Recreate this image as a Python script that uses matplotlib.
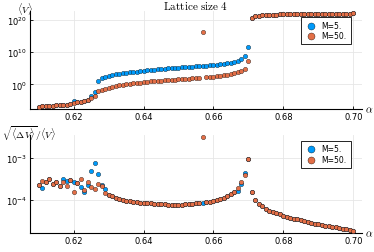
import numpy as np
import matplotlib
matplotlib.use("Agg")
import matplotlib.pyplot as plt

plt.rcParams["mathtext.fontset"] = "cm"

# alpha grid 0.610 ... 0.700
alpha = np.round(np.arange(610, 701) / 1000, 3)

# log10 <V>, M=5.
log_v_m5 = [
    -6.9, -6.8, -6.75, -6.7, -6.6, -6.5, -6.45, -6.35, -6.25, -6.15,
    -5.1, -5.6, -5.5, -5.2, -4.8, -3.7, -2.3, 1.1, 2.0, 2.4,
    2.7, 2.95, 3.15, 3.3, 3.45, 3.55, 3.7, 3.8, 3.95, 4.1,
    4.25, 4.35, 4.45, 4.55, 4.65, 4.75, 4.85, 4.95, 5.05, 5.1,
    5.2, 5.3, 5.35, 5.45, 5.5, 5.6, 5.7, 5.8, 5.85, 5.95,
    6.05, 6.15, 6.25, 6.35, 6.5, 6.65, 6.85, 7.3, 7.9, 8.8,
    11.5, 20.7, 21.1, 21.3, 21.4, 21.5, 21.55, 21.6, 21.65, 21.7,
    21.7, 21.75, 21.75, 21.8, 21.8, 21.8, 21.85, 21.85, 21.85, 21.85,
    21.9, 21.9, 21.9, 21.9, 21.9, 21.95, 21.95, 21.95, 21.95, 21.95,
    22.0,
]
# log10 <V>, M=50.
log_v_m50 = [
    -6.9, -6.8, -6.75, -6.7, -6.6, -6.5, -6.45, -6.35, -6.25, -6.15,
    -5.8, -5.6, -5.5, -5.2, -4.8, -4.3, -3.6, -2.2, -1.6, -1.3,
    -1.0, -0.7, -0.5, -0.3, -0.15, 0.0, 0.15, 0.3, 0.45, 0.55,
    0.7, 0.8, 0.9, 1.0, 1.1, 1.2, 1.3, 1.35, 1.45, 1.5,
    1.6, 1.65, 1.7, 1.8, 1.85, 1.9, 2.0, 16.2, 2.15, 2.25,
    2.35, 2.5, 2.65, 2.8, 3.0, 3.2, 3.5, 3.85, 4.3, 4.9,
    7.3, 20.7, 21.1, 21.3, 21.4, 21.5, 21.55, 21.6, 21.65, 21.7,
    21.7, 21.75, 21.75, 21.8, 21.8, 21.8, 21.85, 21.85, 21.85, 21.85,
    21.9, 21.9, 21.9, 21.9, 21.9, 21.95, 21.95, 21.95, 21.95, 21.95,
    22.0,
]

# log10 sqrt(<dV>)/<V>, M=5.
log_r_m5 = [
    -3.64, -3.71, -3.56, -3.50, -3.62, -3.57, -3.66, -3.49, -3.55, -3.52,
    -3.57, -3.60, -3.68, -3.80, -3.64, -3.32, -3.13, -3.37, -3.64, -3.74,
    -3.87, -3.91, -3.95, -3.98, -4.00, -4.02, -4.03, -4.04, -4.05, -4.06,
    -4.07, -4.08, -4.08, -4.09, -4.09, -4.10, -4.10, -4.11, -4.11, -4.11,
    -4.11, -4.11, -4.10, -4.10, -4.09, -4.08, -4.07, -4.08, -4.05, -4.04,
    -4.02, -4.00, -3.97, -3.94, -3.90, -3.86, -3.81, -3.78, -3.62, -3.36,
    -3.02, -3.80, -3.99, -4.09, -4.14, -4.21, -4.25, -4.28, -4.31, -4.34,
    -4.37, -4.40, -4.42, -4.44, -4.46, -4.48, -4.50, -4.52, -4.54, -4.56,
    -4.58, -4.59, -4.61, -4.62, -4.64, -4.65, -4.67, -4.68, -4.70, -4.71,
    -4.73,
]
# log10 sqrt(<dV>)/<V>, M=50.
log_r_m50 = [
    -3.64, -3.54, -3.56, -3.50, -3.62, -3.57, -3.66, -3.58, -3.66, -3.52,
    -3.80, -3.60, -3.49, -3.75, -3.57, -3.68, -3.73, -3.62, -3.66, -3.84,
    -3.87, -3.91, -3.95, -3.98, -4.00, -4.02, -4.03, -4.04, -4.05, -4.06,
    -4.07, -4.08, -4.08, -4.09, -4.09, -4.10, -4.10, -4.11, -4.11, -4.11,
    -4.11, -4.11, -4.10, -4.10, -4.09, -4.08, -4.07, -2.51, -4.05, -4.04,
    -4.02, -4.00, -3.97, -3.94, -3.90, -3.86, -3.81, -3.71, -3.57, -3.41,
    -3.02, -3.80, -3.99, -4.09, -4.14, -4.21, -4.25, -4.28, -4.31, -4.34,
    -4.37, -4.40, -4.42, -4.44, -4.46, -4.48, -4.50, -4.52, -4.54, -4.56,
    -4.58, -4.59, -4.61, -4.62, -4.64, -4.65, -4.67, -4.68, -4.70, -4.71,
    -4.73,
]

labels = ["M=5.", "M=50."]
colors = ["#009AFA", "#E36F47"]

fig = plt.figure(figsize=(3.74, 2.53), dpi=100)
ax1 = fig.add_axes([0.080, 0.565, 0.888, 0.387])
ax2 = fig.add_axes([0.080, 0.074, 0.888, 0.389])


def style(ax, ylim, yticks):
    ax.set_yscale("log")
    ax.set_xlim(0.6075, 0.7025)
    ax.set_ylim(*ylim)
    ax.set_xticks([0.62, 0.64, 0.66, 0.68, 0.70])
    ax.set_xticklabels(["0.62", "0.64", "0.66", "0.68", "0.70"])
    ax.set_yticks(yticks)
    ax.yaxis.set_minor_locator(matplotlib.ticker.NullLocator())
    ax.grid(True, color="#e6e6e6", lw=0.6)
    ax.set_axisbelow(True)
    for s in ["top", "right"]:
        ax.spines[s].set_visible(False)
    for s in ["left", "bottom"]:
        ax.spines[s].set_linewidth(0.8)
    ax.tick_params(direction="in", length=2.5, width=0.6, labelsize=6, pad=2)
    leg = ax.legend(loc="upper right", bbox_to_anchor=(0.977, 0.98), fontsize=5.5,
                    fancybox=False, framealpha=1, edgecolor="black",
                    borderpad=0.5, handletextpad=0.6, labelspacing=0.2,
                    markerscale=1.6, handlelength=1.6)
    leg.get_frame().set_linewidth(0.6)


for lv, lab, c in zip([log_v_m5, log_v_m50], labels, colors):
    ax1.scatter(alpha, 10.0 ** np.array(lv), s=10, color=c, edgecolors="black",
                linewidths=0.25, label=lab, zorder=3)
for lr, lab, c in zip([log_r_m5, log_r_m50], labels, colors):
    ax2.scatter(alpha, 10.0 ** np.array(lr), s=10, color=c, edgecolors="black",
                linewidths=0.25, label=lab, zorder=3)

style(ax1, (10 ** -7.65, 10 ** 22.7), [1e0, 1e10, 1e20])
style(ax2, (10 ** -4.79, 10 ** -2.45), [1e-4, 1e-3])

fig.text(0.524, 0.962, r"$\mathrm{Lattice\ size\ 4}$", fontsize=8, ha="center", va="baseline")
fig.text(0.045, 0.998, r"$\langle V\rangle$", fontsize=7, va="top", ha="left")
fig.text(0.005, 0.51, r"$\sqrt{\langle\Delta V\rangle}/\langle V\rangle$",
         fontsize=7, va="top", ha="left")
fig.text(0.975, 0.565, r"$\alpha$", fontsize=7.5, va="center", ha="left")
fig.text(0.975, 0.074, r"$\alpha$", fontsize=7.5, va="center", ha="left")

fig.savefig("out.png", dpi=100)
